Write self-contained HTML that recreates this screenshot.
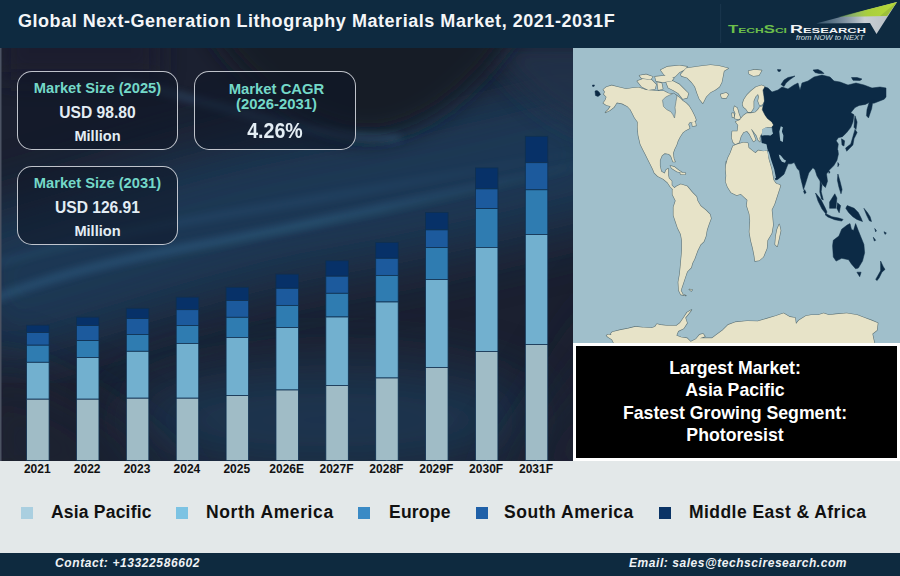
<!DOCTYPE html>
<html><head><meta charset="utf-8">
<style>
*{margin:0;padding:0;box-sizing:border-box}
html,body{width:900px;height:576px;overflow:hidden;background:#1c2231;font-family:"Liberation Sans",sans-serif}
.abs{position:absolute}
#hdr{position:absolute;left:0;top:0;width:900px;height:48px;background:#0e2a40}
#title{position:absolute;left:18px;top:11px;font-size:18px;letter-spacing:0.54px;font-weight:bold;color:#f4f6f8;white-space:nowrap}
#chart{position:absolute;left:0;top:48px;width:573px;height:413px;overflow:hidden;background:#1c2231}
#map{position:absolute;left:573px;top:48px;width:327px;height:295px;background:#a0bfcb;overflow:hidden}
#blk{position:absolute;left:573px;top:343px;width:327px;height:118px;background:#000;border:3px solid #fff;color:#fff;font-weight:bold;font-size:17.7px;text-align:center;line-height:22.4px;padding-top:10.8px;padding-right:3px;letter-spacing:0}
#legend{position:absolute;left:0;top:461px;width:900px;height:92px;background:#e3e8e9}
#foot{position:absolute;left:0;top:553px;width:900px;height:23px;background:#0e2a3f;color:#eef2f5;font-style:italic;font-weight:bold;font-size:12px;letter-spacing:0.6px}
.box{position:absolute;border:1.5px solid rgba(222,226,232,0.85);border-radius:15px;background:rgba(15,22,38,0.55);text-align:center;font-weight:bold}
.tl{color:#74d8c8}
.wv{color:#e3edf4}
.yr{position:absolute;top:462px;width:50px;text-align:center;font-size:12px;font-weight:bold;color:#111}
.lg{position:absolute;top:501.5px;font-size:17.5px;font-weight:bold;color:#111;white-space:nowrap}
.sq{position:absolute;top:507px;width:11.5px;height:11.5px}
</style></head><body>
<div id="chart">
<svg width="573" height="413" style="position:absolute;left:0;top:0">
<defs>
<filter id="b30" x="-50%" y="-50%" width="200%" height="200%"><feGaussianBlur stdDeviation="30"/></filter>
<filter id="b12" x="-50%" y="-50%" width="200%" height="200%"><feGaussianBlur stdDeviation="12"/></filter>
<filter id="b4" x="-50%" y="-50%" width="200%" height="200%"><feGaussianBlur stdDeviation="4"/></filter>
<linearGradient id="sg1" gradientUnits="userSpaceOnUse" x1="0" y1="0" x2="573" y2="0"><stop offset="0" stop-color="#3f7eaa" stop-opacity="0.7"/><stop offset="0.55" stop-color="#3f7eaa" stop-opacity="0.8"/><stop offset="1" stop-color="#3f7eaa" stop-opacity="0.1"/></linearGradient>
</defs>
<rect width="573" height="413" fill="#1b2030"/>
<g transform="translate(0,-48)">
<path d="M-40,300 C100,262 200,225 300,205 C420,185 500,165 620,135" stroke="#1f3a58" stroke-width="150" fill="none" filter="url(#b30)" opacity="0.9"/>
<ellipse cx="330" cy="420" rx="210" ry="55" fill="#1e3a57" filter="url(#b30)" opacity="0.8"/>
<path d="M480,40 L620,40 L620,140 C580,130 540,120 480,40Z" fill="#20304a" filter="url(#b12)" opacity="0.8"/>
<path d="M200,10 C240,90 320,138 376,136 C428,128 475,95 530,10 Z" fill="#171b28" filter="url(#b12)" opacity="1"/>
<path d="M120,80 C180,95 260,118 300,128 C330,134 355,138 400,138" stroke="#4479a3" stroke-width="3" fill="none" filter="url(#b4)" opacity="0.75"/>
<path d="M-20,304 C40,280 100,263 200,245 C300,227 420,200 600,160" stroke="url(#sg1)" stroke-width="4.5" fill="none" filter="url(#b4)" opacity="0.8"/>
<path d="M-20,268 C60,245 120,232 240,212 C340,195 440,178 600,148" stroke="url(#sg1)" stroke-width="3" fill="none" filter="url(#b4)" opacity="0.5"/>
<path d="M-30,360 L-30,500 L200,500 C140,440 80,390 -30,360Z" fill="#1b2030" filter="url(#b30)" opacity="0.7"/>
<path d="M480,500 L620,500 L620,280 C580,360 530,440 480,500Z" fill="#1b2030" filter="url(#b30)" opacity="0.7"/>
<rect x="0" y="20" width="160" height="60" fill="#1c1f2d" filter="url(#b12)" opacity="0.8"/>
</g>
<rect x="0" y="0" width="1.5" height="413" fill="#4b5262"/>
<g transform="translate(0,-48)">
<rect x="26.60" y="325.2" width="22.5" height="7.4" fill="#073168" stroke="#0f3050" stroke-width="0.8"/>
<rect x="26.60" y="332.6" width="22.5" height="12.6" fill="#1c5a9d" stroke="#0f3050" stroke-width="0.8"/>
<rect x="26.60" y="345.2" width="22.5" height="17.1" fill="#2f7cb1" stroke="#0f3050" stroke-width="0.8"/>
<rect x="26.60" y="362.3" width="22.5" height="36.9" fill="#72b0cf" stroke="#0f3050" stroke-width="0.8"/>
<rect x="26.60" y="399.2" width="22.5" height="61.3" fill="#a0bcc6" stroke="#0f3050" stroke-width="0.8"/>
<rect x="76.47" y="317.2" width="22.5" height="8.4" fill="#073168" stroke="#0f3050" stroke-width="0.8"/>
<rect x="76.47" y="325.6" width="22.5" height="15.0" fill="#1c5a9d" stroke="#0f3050" stroke-width="0.8"/>
<rect x="76.47" y="340.6" width="22.5" height="16.9" fill="#2f7cb1" stroke="#0f3050" stroke-width="0.8"/>
<rect x="76.47" y="357.5" width="22.5" height="41.7" fill="#72b0cf" stroke="#0f3050" stroke-width="0.8"/>
<rect x="76.47" y="399.2" width="22.5" height="61.3" fill="#a0bcc6" stroke="#0f3050" stroke-width="0.8"/>
<rect x="126.34" y="308.4" width="22.5" height="10.2" fill="#073168" stroke="#0f3050" stroke-width="0.8"/>
<rect x="126.34" y="318.6" width="22.5" height="15.9" fill="#1c5a9d" stroke="#0f3050" stroke-width="0.8"/>
<rect x="126.34" y="334.5" width="22.5" height="16.8" fill="#2f7cb1" stroke="#0f3050" stroke-width="0.8"/>
<rect x="126.34" y="351.3" width="22.5" height="46.9" fill="#72b0cf" stroke="#0f3050" stroke-width="0.8"/>
<rect x="126.34" y="398.2" width="22.5" height="62.3" fill="#a0bcc6" stroke="#0f3050" stroke-width="0.8"/>
<rect x="176.21" y="297.2" width="22.5" height="12.5" fill="#073168" stroke="#0f3050" stroke-width="0.8"/>
<rect x="176.21" y="309.7" width="22.5" height="15.8" fill="#1c5a9d" stroke="#0f3050" stroke-width="0.8"/>
<rect x="176.21" y="325.5" width="22.5" height="17.9" fill="#2f7cb1" stroke="#0f3050" stroke-width="0.8"/>
<rect x="176.21" y="343.4" width="22.5" height="54.8" fill="#72b0cf" stroke="#0f3050" stroke-width="0.8"/>
<rect x="176.21" y="398.2" width="22.5" height="62.3" fill="#a0bcc6" stroke="#0f3050" stroke-width="0.8"/>
<rect x="226.08" y="287.3" width="22.5" height="13.2" fill="#073168" stroke="#0f3050" stroke-width="0.8"/>
<rect x="226.08" y="300.5" width="22.5" height="16.8" fill="#1c5a9d" stroke="#0f3050" stroke-width="0.8"/>
<rect x="226.08" y="317.3" width="22.5" height="20.1" fill="#2f7cb1" stroke="#0f3050" stroke-width="0.8"/>
<rect x="226.08" y="337.4" width="22.5" height="58.1" fill="#72b0cf" stroke="#0f3050" stroke-width="0.8"/>
<rect x="226.08" y="395.5" width="22.5" height="65.0" fill="#a0bcc6" stroke="#0f3050" stroke-width="0.8"/>
<rect x="275.95" y="274.2" width="22.5" height="14.1" fill="#073168" stroke="#0f3050" stroke-width="0.8"/>
<rect x="275.95" y="288.3" width="22.5" height="17.1" fill="#1c5a9d" stroke="#0f3050" stroke-width="0.8"/>
<rect x="275.95" y="305.4" width="22.5" height="22.1" fill="#2f7cb1" stroke="#0f3050" stroke-width="0.8"/>
<rect x="275.95" y="327.5" width="22.5" height="62.5" fill="#72b0cf" stroke="#0f3050" stroke-width="0.8"/>
<rect x="275.95" y="390.0" width="22.5" height="70.5" fill="#a0bcc6" stroke="#0f3050" stroke-width="0.8"/>
<rect x="325.82" y="260.8" width="22.5" height="15.4" fill="#073168" stroke="#0f3050" stroke-width="0.8"/>
<rect x="325.82" y="276.2" width="22.5" height="17.1" fill="#1c5a9d" stroke="#0f3050" stroke-width="0.8"/>
<rect x="325.82" y="293.3" width="22.5" height="23.7" fill="#2f7cb1" stroke="#0f3050" stroke-width="0.8"/>
<rect x="325.82" y="317.0" width="22.5" height="68.4" fill="#72b0cf" stroke="#0f3050" stroke-width="0.8"/>
<rect x="325.82" y="385.4" width="22.5" height="75.1" fill="#a0bcc6" stroke="#0f3050" stroke-width="0.8"/>
<rect x="375.69" y="242.5" width="22.5" height="15.8" fill="#073168" stroke="#0f3050" stroke-width="0.8"/>
<rect x="375.69" y="258.3" width="22.5" height="17.1" fill="#1c5a9d" stroke="#0f3050" stroke-width="0.8"/>
<rect x="375.69" y="275.4" width="22.5" height="26.6" fill="#2f7cb1" stroke="#0f3050" stroke-width="0.8"/>
<rect x="375.69" y="302.0" width="22.5" height="76.0" fill="#72b0cf" stroke="#0f3050" stroke-width="0.8"/>
<rect x="375.69" y="378.0" width="22.5" height="82.5" fill="#a0bcc6" stroke="#0f3050" stroke-width="0.8"/>
<rect x="425.56" y="212.5" width="22.5" height="17.4" fill="#073168" stroke="#0f3050" stroke-width="0.8"/>
<rect x="425.56" y="229.9" width="22.5" height="17.7" fill="#1c5a9d" stroke="#0f3050" stroke-width="0.8"/>
<rect x="425.56" y="247.6" width="22.5" height="31.9" fill="#2f7cb1" stroke="#0f3050" stroke-width="0.8"/>
<rect x="425.56" y="279.5" width="22.5" height="87.9" fill="#72b0cf" stroke="#0f3050" stroke-width="0.8"/>
<rect x="425.56" y="367.4" width="22.5" height="93.1" fill="#a0bcc6" stroke="#0f3050" stroke-width="0.8"/>
<rect x="475.43" y="167.9" width="22.5" height="21.0" fill="#073168" stroke="#0f3050" stroke-width="0.8"/>
<rect x="475.43" y="188.9" width="22.5" height="19.7" fill="#1c5a9d" stroke="#0f3050" stroke-width="0.8"/>
<rect x="475.43" y="208.6" width="22.5" height="38.8" fill="#2f7cb1" stroke="#0f3050" stroke-width="0.8"/>
<rect x="475.43" y="247.4" width="22.5" height="104.0" fill="#72b0cf" stroke="#0f3050" stroke-width="0.8"/>
<rect x="475.43" y="351.4" width="22.5" height="109.1" fill="#a0bcc6" stroke="#0f3050" stroke-width="0.8"/>
<rect x="525.30" y="136.3" width="22.5" height="26.4" fill="#073168" stroke="#0f3050" stroke-width="0.8"/>
<rect x="525.30" y="162.7" width="22.5" height="27.1" fill="#1c5a9d" stroke="#0f3050" stroke-width="0.8"/>
<rect x="525.30" y="189.8" width="22.5" height="44.7" fill="#2f7cb1" stroke="#0f3050" stroke-width="0.8"/>
<rect x="525.30" y="234.5" width="22.5" height="109.9" fill="#72b0cf" stroke="#0f3050" stroke-width="0.8"/>
<rect x="525.30" y="344.4" width="22.5" height="116.1" fill="#a0bcc6" stroke="#0f3050" stroke-width="0.8"/>
<rect x="37.40" y="460.5" width="0.8" height="2.5" fill="#9aa4aa"/>
<rect x="87.27" y="460.5" width="0.8" height="2.5" fill="#9aa4aa"/>
<rect x="137.14" y="460.5" width="0.8" height="2.5" fill="#9aa4aa"/>
<rect x="187.01" y="460.5" width="0.8" height="2.5" fill="#9aa4aa"/>
<rect x="236.88" y="460.5" width="0.8" height="2.5" fill="#9aa4aa"/>
<rect x="286.75" y="460.5" width="0.8" height="2.5" fill="#9aa4aa"/>
<rect x="336.62" y="460.5" width="0.8" height="2.5" fill="#9aa4aa"/>
<rect x="386.49" y="460.5" width="0.8" height="2.5" fill="#9aa4aa"/>
<rect x="436.36" y="460.5" width="0.8" height="2.5" fill="#9aa4aa"/>
<rect x="486.23" y="460.5" width="0.8" height="2.5" fill="#9aa4aa"/>
<rect x="536.10" y="460.5" width="0.8" height="2.5" fill="#9aa4aa"/>
</g>
</svg>
<div class="box" style="left:17px;top:23px;width:161px;height:79px">
 <div class="tl abs" style="left:0px;width:100%;top:8px;font-size:14.7px">Market Size (2025)</div>
 <div class="wv abs" style="left:0;width:100%;top:32.4px;font-size:15.6px">USD 98.80</div>
 <div class="wv abs" style="left:0;width:100%;top:56px;font-size:14.6px">Million</div>
</div>
<div class="box" style="left:194px;top:23px;width:162px;height:79px">
 <div class="tl abs" style="left:1.5px;width:100%;top:9.5px;font-size:14.85px;line-height:15.5px">Market CAGR<br>(2026-2031)</div>
 <div class="wv abs" style="left:0;width:100%;top:46px;font-size:22px;transform:scaleX(0.89)">4.26%</div>
</div>
<div class="box" style="left:17px;top:118px;width:161px;height:79px">
 <div class="tl abs" style="left:0px;width:100%;top:8px;font-size:14.7px">Market Size (2031)</div>
 <div class="wv abs" style="left:0;width:100%;top:32.4px;font-size:15.6px">USD 126.91</div>
 <div class="wv abs" style="left:0;width:100%;top:56px;font-size:14.6px">Million</div>
</div>
</div>
<div id="hdr"><svg width="900" height="48" style="position:absolute;left:0;top:0">
<defs>
<linearGradient id="lgG" x1="0" y1="0" x2="1" y2="0"><stop offset="0" stop-color="#5f9e3a" stop-opacity="0.3"/><stop offset="0.5" stop-color="#a9cf3c"/><stop offset="1" stop-color="#b8d83a"/></linearGradient>
<linearGradient id="lgS" x1="0" y1="0" x2="1" y2="0"><stop offset="0" stop-color="#6e8ea6" stop-opacity="0.4"/><stop offset="0.6" stop-color="#c9ced3"/><stop offset="1" stop-color="#b5bcc3"/></linearGradient>
</defs>
<rect x="720.3" y="4" width="0.8" height="39" fill="#1d3a50"/>
<polygon points="897,2 816,23.5 870,23 876.5,34" fill="url(#lgS)"/>
<polygon points="897,2 838,17 887,16" fill="url(#lgG)"/>
<polygon points="897,2 880,16 887,16" fill="#8fb03a" opacity="0.6"/>
<text x="728" y="32.8" font-family="Liberation Sans" font-weight="bold" font-size="10.8" fill="#6cbf4b" textLength="59" lengthAdjust="spacingAndGlyphs">T<tspan font-size="7.8">ECH</tspan>S<tspan font-size="7.8">CI</tspan></text>
<text x="790" y="32.8" font-family="Liberation Sans" font-weight="bold" font-size="10.8" fill="#f2f4f6" textLength="76" lengthAdjust="spacingAndGlyphs">R<tspan font-size="7.8">ESEARCH</tspan></text>
<text x="796" y="40.4" font-family="Liberation Sans" font-style="italic" font-size="7.2" fill="#d8e0e6" textLength="68" lengthAdjust="spacingAndGlyphs">from NOW to NEXT</text>
</svg><div id="title">Global Next-Generation Lithography Materials Market, 2021-2031F</div></div>
<div id="map">
<svg width="327" height="295" viewBox="0 0 327 295" style="position:absolute;left:0;top:0">
<rect width="327" height="295" fill="#a0bfcb"/>
<path d="M30.3,41.6 33.5,39.0 38.7,37.4 44.9,39.0 53.2,41.1 59.5,40.0 65.8,39.5 73.1,42.0 84.2,43.1 90.9,43.1 95.3,45.3 99.0,46.0 103.0,47.0 107.0,50.0 110.0,53.0 113.0,55.0 116.0,58.0 119.0,63.0 121.5,68.0 123.0,72.0 120.5,75.0 117.0,74.0 115.3,76.2 116.7,80.3 112.5,82.4 109.8,84.5 107.0,88.7 104.9,92.8 103.5,97.0 101.4,101.2 100.0,105.3 100.8,110.9 102.1,113.7 100.0,113.7 98.0,108.1 95.9,106.0 91.7,105.3 88.9,107.4 86.9,112.3 86.9,117.8 88.2,123.4 91.7,125.5 93.1,122.0 95.2,120.6 95.2,126.9 95.9,130.3 98.7,133.1 98.7,137.3 101.4,140.0 103.5,142.1 102.8,144.2 100.0,141.4 97.3,138.7 94.5,134.5 90.3,131.0 84.8,128.2 81.3,124.8 79.9,121.3 77.8,117.1 75.0,111.6 72.3,106.0 70.2,101.9 67.4,96.3 65.3,87.3 64.6,78.9 64.7,73.9 61.6,69.7 59.5,65.5 57.4,61.4 54.3,58.2 49.1,55.6 43.9,54.6 42.8,56.2 40.8,59.3 36.6,62.4 32.4,64.5 35.5,61.4 37.6,58.2 33.5,57.2 30.3,55.1 32.4,52.0 33.5,48.9 30.9,46.3 31.9,43.7ZM107.6,26.4 113.1,20.3 128.7,18.1 137.6,17.0 146.4,18.1 155.3,20.3 150.9,23.1 149.8,28.7 148.7,34.2 146.4,38.7 142.0,42.0 137.6,44.2 133.1,48.7 129.8,55.3 126.4,50.9 124.2,45.3 122.0,38.7 118.7,34.2 114.2,29.8 108.7,28.1ZM87.6,22.0 94.2,18.7 106.4,17.6 114.2,18.7 110.9,22.0 106.4,24.2 102.0,28.7 95.3,29.8 90.9,26.4ZM64.2,33.1 69.8,30.9 78.7,32.0 83.1,36.4 82.0,40.9 75.3,42.0 68.7,38.7ZM66.4,27.6 73.1,26.4 79.8,28.7 77.6,31.4 68.7,30.3ZM82.0,28.7 93.1,27.6 100.9,29.8 98.7,33.1 89.8,34.2 83.1,33.1ZM93.1,34.2 99.8,33.1 106.4,36.4 110.9,40.9 115.3,45.3 114.2,49.8 109.8,50.9 105.3,45.3 99.8,42.0 95.3,39.8ZM84.2,34.2 88.7,35.3 89.8,40.9 85.3,42.0ZM147.6,46.4 153.1,44.8 155.3,46.4 153.1,50.3 148.7,49.8ZM97.3,117.8 101.4,118.9 105.6,122.3 109.1,124.5 104.2,123.7 98.7,120.3ZM107.0,124.5 112.6,125.1 111.9,126.4 107.7,126.2ZM118.8,73.4 122.3,74.1 123.0,77.6 119.5,78.2ZM99.5,141.4 103.7,138.2 107.8,136.2 114.1,138.2 119.3,144.5 123.5,148.7 124.5,152.8 127.6,158.0 132.8,162.2 137.0,166.4 138.0,170.5 136.0,175.8 133.9,182.0 132.8,188.2 130.8,193.5 127.6,196.6 124.5,202.8 121.4,211.2 119.3,215.3 118.2,219.5 114.1,223.7 112.0,229.9 109.9,236.2 107.8,242.4 109.9,246.6 113.0,247.6 107.8,246.6 105.8,242.4 105.3,234.1 106.8,225.8 107.8,215.3 108.9,202.8 108.9,192.4 107.8,186.2 104.7,179.9 102.6,173.7 100.5,167.4 100.5,159.1 102.6,152.8 99.5,146.6ZM116.2,241.4 119.3,241.8 118.2,243.0ZM169.5,56.0 171.0,51.5 174.0,47.0 178.0,43.0 183.0,39.0 188.5,37.2 191.5,38.5 191.0,42.6 191.5,48.7 191.5,53.0 189.3,56.5 186.7,57.4 185.0,53.0 185.9,48.7 185.0,46.1 182.4,48.7 180.6,53.0 180.6,60.0 178.0,64.0 175.0,64.0 173.0,61.0 170.5,59.0ZM161.5,58.2 164.2,60.0 165.9,66.0 167.6,70.4 165.0,71.3 161.5,70.4 162.4,65.2 160.7,61.7ZM159.0,65.2 160.7,65.2 161.1,68.7 159.4,69.5ZM175.5,23.1 181.7,21.7 188.7,22.4 185.9,27.3 180.3,28.0 176.2,25.9ZM166.8,72.1 170.2,67.8 173.7,65.2 178.0,65.2 182.4,64.3 185.0,61.7 186.7,59.1 189.3,58.2 192.0,58.0 192.0,67.0 194.5,70.4 198.9,73.9 200.6,77.0 199.0,79.0 193.2,79.3 189.1,81.4 189.1,85.0 187.8,86.8 186.5,90.0 187.0,93.7 185.2,92.0 183.5,87.6 179.0,81.5 178.0,81.0 180.0,85.0 181.7,89.4 182.6,92.0 180.5,93.5 178.5,90.0 176.5,86.0 174.0,83.0 170.4,84.2 167.8,88.5 166.1,94.6 162.2,96.3 160.0,94.1 158.7,89.4 159.2,83.3 164.4,83.3 165.2,77.2 162.6,73.7ZM160.0,98.0 164.4,96.3 170.4,94.6 174.8,95.0 175.6,99.8 180.9,104.1 182.6,105.0 185.2,102.4 190.4,103.2 193.9,102.4 194.7,105.0 195.6,111.0 198.5,121.0 200.5,132.0 202.5,135.0 204.0,136.0 206.0,136.5 207.5,137.5 201.4,156.2 198.7,161.7 199.4,168.7 200.1,177.0 198.7,185.3 194.5,192.3 193.8,200.6 190.3,208.9 186.2,212.4 182.0,213.1 181.3,207.6 179.9,200.6 177.8,192.3 176.4,183.9 177.1,172.8 176.4,165.9 173.7,157.6 174.4,152.0 167.8,145.9 163.7,147.3 158.1,144.5 154.6,138.9 152.6,133.4 153.2,127.8 152.6,120.9 153.2,113.9 153.0,117.1 154.8,110.2 157.4,105.0ZM206.3,176.3 207.7,182.6 205.6,192.3 204.2,198.5 202.1,196.4 202.8,188.1 204.2,181.2ZM37.7,285.8 39.4,284.0 46.6,282.2 55.4,280.4 62.6,278.7 69.7,279.6 78.6,280.1 82.1,278.7 83.9,276.0 87.4,276.9 94.6,277.8 103.4,277.8 107.0,275.1 110.6,269.8 114.1,264.4 118.6,261.8 115.9,265.3 112.3,269.8 114.1,275.1 110.6,280.4 105.2,283.1 103.4,287.6 107.9,289.3 114.1,290.2 117.7,293.8 123.0,291.1 126.6,286.7 130.1,285.8 131.9,288.4 126.6,290.2 139.0,290.2 142.6,287.6 149.7,282.2 155.0,276.9 162.1,274.2 174.1,273.0 184.8,273.3 193.7,270.7 202.6,268.0 210.6,265.3 216.8,268.9 222.1,269.8 223.0,276.0 225.7,272.4 232.8,268.0 238.1,267.1 245.2,267.1 250.6,265.3 255.9,267.1 263.0,266.2 273.7,265.3 284.3,267.1 291.4,269.8 298.6,272.4 304.8,275.1 303.9,282.2 299.4,285.8 300.3,290.2 302.1,298.2 327.0,300.0 41.0,300.0 41.0,295.5 39.0,291.5 35.0,289.0 33.5,287.5 35.0,286.5 38.5,287.0Z" fill="#e7e3c8" stroke="#5f7478" stroke-width="1.2" stroke-linejoin="round"/>
<path d="M30.3,41.6 33.5,39.0 38.7,37.4 44.9,39.0 53.2,41.1 59.5,40.0 65.8,39.5 73.1,42.0 84.2,43.1 90.9,43.1 95.3,45.3 99.0,46.0 103.0,47.0 107.0,50.0 110.0,53.0 113.0,55.0 116.0,58.0 119.0,63.0 121.5,68.0 123.0,72.0 120.5,75.0 117.0,74.0 115.3,76.2 116.7,80.3 112.5,82.4 109.8,84.5 107.0,88.7 104.9,92.8 103.5,97.0 101.4,101.2 100.0,105.3 100.8,110.9 102.1,113.7 100.0,113.7 98.0,108.1 95.9,106.0 91.7,105.3 88.9,107.4 86.9,112.3 86.9,117.8 88.2,123.4 91.7,125.5 93.1,122.0 95.2,120.6 95.2,126.9 95.9,130.3 98.7,133.1 98.7,137.3 101.4,140.0 103.5,142.1 102.8,144.2 100.0,141.4 97.3,138.7 94.5,134.5 90.3,131.0 84.8,128.2 81.3,124.8 79.9,121.3 77.8,117.1 75.0,111.6 72.3,106.0 70.2,101.9 67.4,96.3 65.3,87.3 64.6,78.9 64.7,73.9 61.6,69.7 59.5,65.5 57.4,61.4 54.3,58.2 49.1,55.6 43.9,54.6 42.8,56.2 40.8,59.3 36.6,62.4 32.4,64.5 35.5,61.4 37.6,58.2 33.5,57.2 30.3,55.1 32.4,52.0 33.5,48.9 30.9,46.3 31.9,43.7ZM107.6,26.4 113.1,20.3 128.7,18.1 137.6,17.0 146.4,18.1 155.3,20.3 150.9,23.1 149.8,28.7 148.7,34.2 146.4,38.7 142.0,42.0 137.6,44.2 133.1,48.7 129.8,55.3 126.4,50.9 124.2,45.3 122.0,38.7 118.7,34.2 114.2,29.8 108.7,28.1ZM87.6,22.0 94.2,18.7 106.4,17.6 114.2,18.7 110.9,22.0 106.4,24.2 102.0,28.7 95.3,29.8 90.9,26.4ZM64.2,33.1 69.8,30.9 78.7,32.0 83.1,36.4 82.0,40.9 75.3,42.0 68.7,38.7ZM66.4,27.6 73.1,26.4 79.8,28.7 77.6,31.4 68.7,30.3ZM82.0,28.7 93.1,27.6 100.9,29.8 98.7,33.1 89.8,34.2 83.1,33.1ZM93.1,34.2 99.8,33.1 106.4,36.4 110.9,40.9 115.3,45.3 114.2,49.8 109.8,50.9 105.3,45.3 99.8,42.0 95.3,39.8ZM84.2,34.2 88.7,35.3 89.8,40.9 85.3,42.0ZM147.6,46.4 153.1,44.8 155.3,46.4 153.1,50.3 148.7,49.8ZM97.3,117.8 101.4,118.9 105.6,122.3 109.1,124.5 104.2,123.7 98.7,120.3ZM107.0,124.5 112.6,125.1 111.9,126.4 107.7,126.2ZM118.8,73.4 122.3,74.1 123.0,77.6 119.5,78.2ZM99.5,141.4 103.7,138.2 107.8,136.2 114.1,138.2 119.3,144.5 123.5,148.7 124.5,152.8 127.6,158.0 132.8,162.2 137.0,166.4 138.0,170.5 136.0,175.8 133.9,182.0 132.8,188.2 130.8,193.5 127.6,196.6 124.5,202.8 121.4,211.2 119.3,215.3 118.2,219.5 114.1,223.7 112.0,229.9 109.9,236.2 107.8,242.4 109.9,246.6 113.0,247.6 107.8,246.6 105.8,242.4 105.3,234.1 106.8,225.8 107.8,215.3 108.9,202.8 108.9,192.4 107.8,186.2 104.7,179.9 102.6,173.7 100.5,167.4 100.5,159.1 102.6,152.8 99.5,146.6ZM116.2,241.4 119.3,241.8 118.2,243.0ZM169.5,56.0 171.0,51.5 174.0,47.0 178.0,43.0 183.0,39.0 188.5,37.2 191.5,38.5 191.0,42.6 191.5,48.7 191.5,53.0 189.3,56.5 186.7,57.4 185.0,53.0 185.9,48.7 185.0,46.1 182.4,48.7 180.6,53.0 180.6,60.0 178.0,64.0 175.0,64.0 173.0,61.0 170.5,59.0ZM161.5,58.2 164.2,60.0 165.9,66.0 167.6,70.4 165.0,71.3 161.5,70.4 162.4,65.2 160.7,61.7ZM159.0,65.2 160.7,65.2 161.1,68.7 159.4,69.5ZM175.5,23.1 181.7,21.7 188.7,22.4 185.9,27.3 180.3,28.0 176.2,25.9ZM166.8,72.1 170.2,67.8 173.7,65.2 178.0,65.2 182.4,64.3 185.0,61.7 186.7,59.1 189.3,58.2 192.0,58.0 192.0,67.0 194.5,70.4 198.9,73.9 200.6,77.0 199.0,79.0 193.2,79.3 189.1,81.4 189.1,85.0 187.8,86.8 186.5,90.0 187.0,93.7 185.2,92.0 183.5,87.6 179.0,81.5 178.0,81.0 180.0,85.0 181.7,89.4 182.6,92.0 180.5,93.5 178.5,90.0 176.5,86.0 174.0,83.0 170.4,84.2 167.8,88.5 166.1,94.6 162.2,96.3 160.0,94.1 158.7,89.4 159.2,83.3 164.4,83.3 165.2,77.2 162.6,73.7ZM160.0,98.0 164.4,96.3 170.4,94.6 174.8,95.0 175.6,99.8 180.9,104.1 182.6,105.0 185.2,102.4 190.4,103.2 193.9,102.4 194.7,105.0 195.6,111.0 198.5,121.0 200.5,132.0 202.5,135.0 204.0,136.0 206.0,136.5 207.5,137.5 201.4,156.2 198.7,161.7 199.4,168.7 200.1,177.0 198.7,185.3 194.5,192.3 193.8,200.6 190.3,208.9 186.2,212.4 182.0,213.1 181.3,207.6 179.9,200.6 177.8,192.3 176.4,183.9 177.1,172.8 176.4,165.9 173.7,157.6 174.4,152.0 167.8,145.9 163.7,147.3 158.1,144.5 154.6,138.9 152.6,133.4 153.2,127.8 152.6,120.9 153.2,113.9 153.0,117.1 154.8,110.2 157.4,105.0ZM206.3,176.3 207.7,182.6 205.6,192.3 204.2,198.5 202.1,196.4 202.8,188.1 204.2,181.2ZM37.7,285.8 39.4,284.0 46.6,282.2 55.4,280.4 62.6,278.7 69.7,279.6 78.6,280.1 82.1,278.7 83.9,276.0 87.4,276.9 94.6,277.8 103.4,277.8 107.0,275.1 110.6,269.8 114.1,264.4 118.6,261.8 115.9,265.3 112.3,269.8 114.1,275.1 110.6,280.4 105.2,283.1 103.4,287.6 107.9,289.3 114.1,290.2 117.7,293.8 123.0,291.1 126.6,286.7 130.1,285.8 131.9,288.4 126.6,290.2 139.0,290.2 142.6,287.6 149.7,282.2 155.0,276.9 162.1,274.2 174.1,273.0 184.8,273.3 193.7,270.7 202.6,268.0 210.6,265.3 216.8,268.9 222.1,269.8 223.0,276.0 225.7,272.4 232.8,268.0 238.1,267.1 245.2,267.1 250.6,265.3 255.9,267.1 263.0,266.2 273.7,265.3 284.3,267.1 291.4,269.8 298.6,272.4 304.8,275.1 303.9,282.2 299.4,285.8 300.3,290.2 302.1,298.2 327.0,300.0 41.0,300.0 41.0,295.5 39.0,291.5 35.0,289.0 33.5,287.5 35.0,286.5 38.5,287.0Z" fill="#e7e3c8"/>
<path d="M89.5,52.2 92.6,49.1 96.8,47.0 101.0,45.0 104.0,48.0 103.0,53.3 102.0,59.5 102.5,63.7 101.5,70.0 100.0,66.8 97.8,63.7 93.7,61.6 90.5,58.5Z" fill="#a0bfcb" stroke="#5f7478" stroke-width="0.6"/>
<path d="M22.0,43.0 24.0,42.5 26.0,44.0 27.5,46.5 25.0,48.5 22.5,47.5ZM19.5,37.0 21.5,37.0 21.0,38.5 19.5,38.3ZM208.0,36.5 211.0,32.0 215.0,29.5 222.0,28.0 217.0,31.5 213.0,35.0 211.0,38.5ZM204.5,21.5 208.0,21.8 207.0,23.5 205.0,23.3ZM190.0,42.0 192.0,39.0 195.0,40.0 199.0,44.0 205.0,42.0 209.0,39.0 215.0,41.0 221.0,37.0 225.0,35.0 227.0,42.0 229.0,35.0 235.0,33.0 241.0,29.0 249.0,27.0 257.0,29.0 261.0,33.0 267.0,34.0 275.0,37.0 283.0,35.0 291.0,37.0 299.0,40.0 307.0,39.0 313.0,40.0 313.0,49.0 311.2,51.2 300.8,55.3 296.6,54.3 292.4,56.4 286.2,57.4 282.0,59.5 277.8,64.7 281.0,66.8 279.9,74.1 277.8,79.3 273.7,84.5 269.5,88.7 265.3,89.7 263.2,92.8 265.3,96.0 264.5,101.4 264.9,102.0 265.4,106.2 263.9,112.4 260.8,117.6 256.6,121.8 253.5,126.0 254.5,133.2 252.4,139.5 250.3,137.4 247.2,133.2 244.0,128.0 242.0,121.8 239.9,119.7 235.8,124.9 232.6,135.3 230.5,141.6 229.5,137.4 227.4,129.0 226.4,122.8 224.3,120.8 221.2,114.5 218.2,115.8 215.1,115.8 211.0,126.2 204.7,131.4 202.6,132.0 200.5,121.0 197.4,111.6 195.3,103.2 193.2,96.0 189.0,95.0 188.0,87.6 193.2,87.6 197.4,87.6 200.0,85.5 199.0,79.0 200.6,77.0 198.9,73.9 194.5,70.4 192.0,67.0 189.3,61.7 190.2,57.4 191.5,53.0 191.0,48.7ZM302.0,52.0 299.7,54.0 298.7,60.5 295.5,69.9 293.5,67.8 294.0,61.6 296.0,55.0 298.0,52.0ZM282.0,67.8 284.1,74.1 283.0,81.4 281.0,79.3 281.5,72.0ZM268.5,90.8 271.6,92.8 271.0,98.0 269.0,97.0ZM282.0,81.4 284.1,84.5 281.0,90.8 279.9,97.0 273.7,103.2 272.6,100.1 277.8,96.0 279.9,88.7ZM231.6,141.6 233.1,144.7 231.6,145.8 230.6,143.5ZM247.2,133.2 249.0,137.0 248.2,143.7 250.3,152.0 248.5,151.0 246.8,144.0ZM242.5,145.0 244.1,146.8 248.2,152.0 252.4,160.3 254.0,164.0 253.0,166.0 249.0,161.0 245.0,153.0ZM256.6,154.0 261.8,145.8 263.9,150.0 262.8,160.3 256.6,160.3ZM264.9,126.0 267.0,133.2 269.1,141.6 268.0,145.8 266.0,139.5 264.4,132.2ZM264.9,114.5 266.0,116.6 264.9,118.7ZM255.5,122.8 257.1,123.9 256.0,125.4ZM240.0,22.0 245.0,21.5 249.0,23.5 251.0,25.5 246.0,25.5 242.0,24.5ZM278.5,29.5 284.0,29.5 289.0,31.0 287.0,32.5 280.0,32.3ZM253.4,165.9 258.9,168.7 265.9,170.1 270.1,171.4 268.7,173.1 261.7,171.7 254.8,168.9 252.0,166.6ZM264.5,154.8 267.6,157.6 266.2,164.8 263.8,160.3ZM274.2,157.6 281.2,160.3 285.3,164.5 288.1,170.1 289.5,173.5 283.9,171.4 279.8,168.7 275.6,164.5 272.8,160.3ZM290.9,160.3 294.4,164.5 297.1,168.7 298.5,173.5 296.4,172.8 293.7,167.3ZM301.7,180.5 303.4,182.6 302.7,183.9ZM311.0,183.7 313.4,185.1 312.0,186.4ZM300.3,189.2 302.7,192.3 301.3,193.0ZM260.3,192.3 265.9,188.1 268.7,181.2 274.2,177.0 277.0,175.6 278.4,181.2 280.5,182.6 282.6,175.6 285.3,182.6 288.1,189.5 290.9,196.4 291.6,204.8 289.5,213.1 285.3,220.1 282.6,220.8 278.4,215.9 275.6,211.7 268.7,210.3 263.1,213.1 260.3,208.9 259.6,197.8ZM283.9,224.2 288.1,224.2 286.7,228.7ZM307.6,213.1 310.3,218.7 312.0,221.4 308.9,224.2 306.2,229.8 304.1,232.6 302.7,231.4 307.6,222.8Z" fill="#0c2a45" stroke="#0c2a45" stroke-width="0.5" stroke-linejoin="round"/>
<path d="M207.8,78.2 209.9,79.3 208.9,83.5 210.4,87.6 209.9,93.9 207.3,92.8 206.8,88.7 206.3,83.5ZM205.8,106.4 207.8,107.4 211.0,111.6 213.0,112.6 212.0,114.7 208.9,113.7 206.8,110.5ZM189.1,81.4 193.2,79.3 197.4,81.4 200.0,85.5 197.4,87.6 193.2,86.6 189.1,87.6ZM187.0,96.0 190.0,95.5 193.5,96.5 194.3,102.0 191.0,103.0 187.0,102.0ZM194.3,103.5 195.8,103.5 198.0,111.6 201.2,121.0 203.0,130.0 201.5,130.0 199.5,121.0 196.5,111.6Z" fill="#a0bfcb"/>
</svg>
</div>
<div id="blk">Largest Market:<br>Asia Pacific<br>Fastest Growing Segment:<br>Photoresist</div>
<div id="legend"></div>
<div class="yr" style="left:12.30px">2021</div>
<div class="yr" style="left:62.17px">2022</div>
<div class="yr" style="left:112.04px">2023</div>
<div class="yr" style="left:161.91px">2024</div>
<div class="yr" style="left:211.78px">2025</div>
<div class="yr" style="left:261.65px">2026E</div>
<div class="yr" style="left:311.52px">2027F</div>
<div class="yr" style="left:361.39px">2028F</div>
<div class="yr" style="left:411.26px">2029F</div>
<div class="yr" style="left:461.13px">2030F</div>
<div class="yr" style="left:511.00px">2031F</div>
<div class="sq" style="left:21px;background:#aacfe0"></div><div class="lg" style="left:51px;letter-spacing:0.2px">Asia Pacific</div>
<div class="sq" style="left:176px;background:#7cc3e3"></div><div class="lg" style="left:206px;letter-spacing:0.6px">North America</div>
<div class="sq" style="left:358px;background:#3a8ac5"></div><div class="lg" style="left:389px;letter-spacing:0.22px">Europe</div>
<div class="sq" style="left:476px;background:#1f60a8"></div><div class="lg" style="left:504px;letter-spacing:0.54px">South America</div>
<div class="sq" style="left:659px;background:#0b3466"></div><div class="lg" style="left:689px;letter-spacing:0.45px">Middle East &amp; Africa</div>
<div id="foot">
 <div class="abs" style="left:55px;top:3px">Contact: +13322586602</div>
 <div class="abs" style="left:629px;top:3px;letter-spacing:0.55px">Email: sales@techsciresearch.com</div>
</div>
</body></html>
